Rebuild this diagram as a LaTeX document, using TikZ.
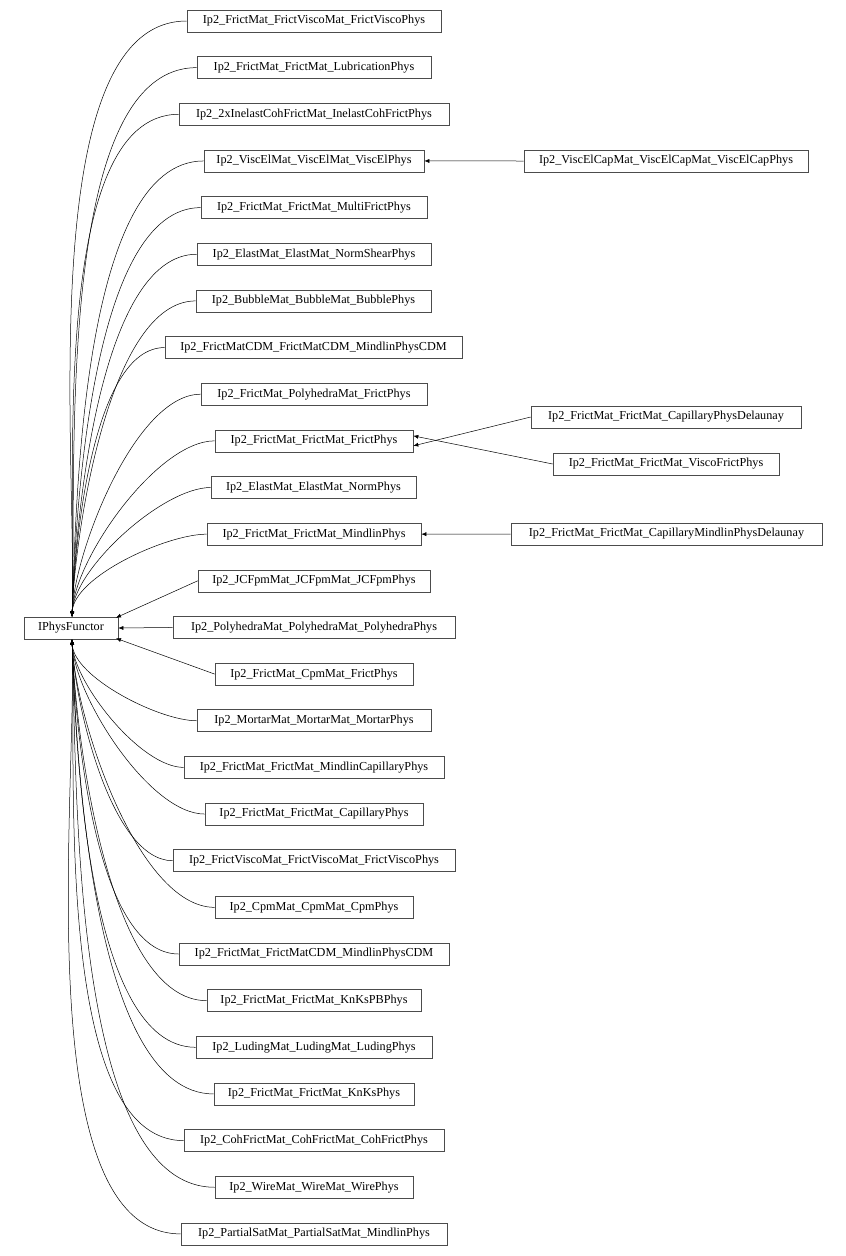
\documentclass[tikz,border=0pt]{standalone}
\usepackage{fontspec}
\setmainfont{Liberation Serif}
\usetikzlibrary{arrows.meta}
\begin{document}
\begin{tikzpicture}[x=1pt,y=-1pt,
  cls/.style={draw=black!70,line width=0.6pt,minimum height=22pt,inner sep=0pt,font=\fontsize{12.2}{14}\selectfont,anchor=center},
  edge/.style={-{Latex[length=5pt,width=4pt]},line width=0.5pt}]
\useasboundingbox (0,0) rectangle (846,1256);
\node[cls,minimum width=94pt] (ip) at (71,628) {IPhysFunctor};
\foreach \i/\l/\r/\t in {
1/187/441/Ip2\_FrictMat\_FrictViscoMat\_FrictViscoPhys,
2/197/431/Ip2\_FrictMat\_FrictMat\_LubricationPhys,
3/179/449/Ip2\_2xInelastCohFrictMat\_InelastCohFrictPhys,
4/204/424/Ip2\_ViscElMat\_ViscElMat\_ViscElPhys,
5/201/427/Ip2\_FrictMat\_FrictMat\_MultiFrictPhys,
6/197/431/Ip2\_ElastMat\_ElastMat\_NormShearPhys,
7/196/431/Ip2\_BubbleMat\_BubbleMat\_BubblePhys,
8/165/462/Ip2\_FrictMatCDM\_FrictMatCDM\_MindlinPhysCDM,
9/201/427/Ip2\_FrictMat\_PolyhedraMat\_FrictPhys,
10/215/413/Ip2\_FrictMat\_FrictMat\_FrictPhys,
11/211/416/Ip2\_ElastMat\_ElastMat\_NormPhys,
12/207/421/Ip2\_FrictMat\_FrictMat\_MindlinPhys,
13/198/430/Ip2\_JCFpmMat\_JCFpmMat\_JCFpmPhys,
14/173/455/Ip2\_PolyhedraMat\_PolyhedraMat\_PolyhedraPhys,
15/215/413/Ip2\_FrictMat\_CpmMat\_FrictPhys,
16/197/431/Ip2\_MortarMat\_MortarMat\_MortarPhys,
17/184/444/Ip2\_FrictMat\_FrictMat\_MindlinCapillaryPhys,
18/205/423/Ip2\_FrictMat\_FrictMat\_CapillaryPhys,
19/173/455/Ip2\_FrictViscoMat\_FrictViscoMat\_FrictViscoPhys,
20/215/413/Ip2\_CpmMat\_CpmMat\_CpmPhys,
21/179/449/Ip2\_FrictMat\_FrictMatCDM\_MindlinPhysCDM,
22/207/421/Ip2\_FrictMat\_FrictMat\_KnKsPBPhys,
23/196/432/Ip2\_LudingMat\_LudingMat\_LudingPhys,
24/214/414/Ip2\_FrictMat\_FrictMat\_KnKsPhys,
25/184/444/Ip2\_CohFrictMat\_CohFrictMat\_CohFrictPhys,
26/215/413/Ip2\_WireMat\_WireMat\_WirePhys,
27/181/447/Ip2\_PartialSatMat\_PartialSatMat\_MindlinPhys}{
  \pgfmathsetmacro\yy{21+46.65*(\i-1)}
  \pgfmathsetmacro\xx{(\l+\r)/2}
  \pgfmathsetmacro\ww{\r-\l}
  \node[cls,minimum width=\ww pt] (n\i) at (\xx,\yy) {\t};
}
\foreach \i in {1,...,12}{
  \draw[edge] (n\i.west) to[out=180,in=88,looseness=0.65] ([xshift=1pt]ip.north);
}
\draw[edge] (n13.west) -- ([xshift=45pt,yshift=-1pt]ip.north);
\draw[edge] (n14.west) -- (ip.east);
\draw[edge] (n15.west) -- ([xshift=45pt,yshift=1pt]ip.south);
\foreach \i in {16,...,27}{
  \draw[edge] (n\i.west) to[out=180,in=-88,looseness=0.65] ([xshift=1pt]ip.south);
}
\node[cls,minimum width=284pt] (r1) at (666,161) {Ip2\_ViscElCapMat\_ViscElCapMat\_ViscElCapPhys};
\node[cls,minimum width=270pt] (r2) at (666,417) {Ip2\_FrictMat\_FrictMat\_CapillaryPhysDelaunay};
\node[cls,minimum width=226pt] (r3) at (666,464) {Ip2\_FrictMat\_FrictMat\_ViscoFrictPhys};
\node[cls,minimum width=311pt] (r4) at (666.5,534) {Ip2\_FrictMat\_FrictMat\_CapillaryMindlinPhysDelaunay};
\draw[edge] (r1.west) -- (n4.east);
\draw[edge] (r2.west) -- ([yshift=-5pt]n10.east);
\draw[edge] (r3.west) -- ([yshift=5pt]n10.east);
\draw[edge] (r4.west) -- (n12.east);
\end{tikzpicture}
\end{document}
